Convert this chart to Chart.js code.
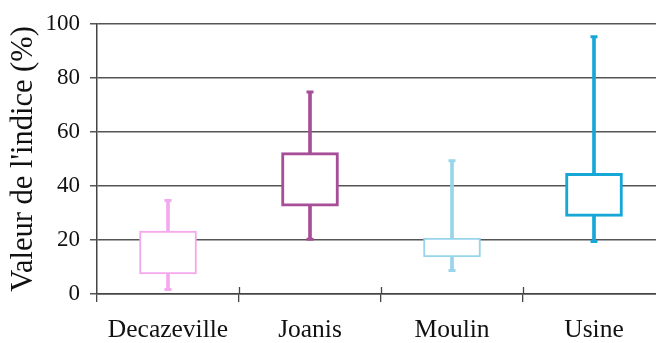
<!DOCTYPE html>
<html>
<head>
<meta charset="utf-8">
<script src="https://cdn.jsdelivr.net/npm/chart.js@4.4.1/dist/chart.umd.min.js"></script>
<style>
  html, body { margin: 0; padding: 0; background: #fff; overflow: hidden; }
  #wrap { width: 672px; height: 343px; position: relative; }
</style>
</head>
<body>
<div id="wrap"><canvas id="c" width="672" height="343"></canvas></div>
<script>
const categories = ['Decazeville', 'Joanis', 'Moulin', 'Usine'];
const minValues = [1.7, 20.3, 8.7, 19.4];
const q1Values  = [7.4, 32.5, 13.7, 28.7];
const q3Values  = [23.3, 52.3, 20.7, 44.7];
const maxValues = [34.6, 74.8, 49.3, 95.2];
const yTicks = [0, 20, 40, 60, 80, 100];
const colors = ['#f4a8ee', '#a64f98', '#98d4ea', '#16a7d7'];
const boxBorderWidths = [2, 3, 2, 3];

const FONT = "'Liberation Serif', 'Times New Roman', serif";

const boundaryTicks = {
  id: 'boundaryTicks',
  afterDraw(chart) {
    const xs = chart.scales.x;
    const ys = chart.scales.y;
    const ctx = chart.ctx;
    const y0 = ys.getPixelForValue(0);
    ctx.save();
    ctx.strokeStyle = '#444';
    ctx.lineWidth = 1.3;
    for (let i = 1; i < categories.length; i++) {
      const x = Math.round((xs.getPixelForTick(i - 1) + xs.getPixelForTick(i)) / 2) + 0.5;
      ctx.beginPath();
      ctx.moveTo(x, y0 - 7);
      ctx.lineTo(x, y0);
      ctx.stroke();
    }
    ctx.restore();
  }
};

new Chart(document.getElementById('c'), {
  data: {
    labels: categories,
    datasets: [
      {
        type: 'line',
        label: 'max',
        data: maxValues,
        showLine: false,
        pointStyle: 'line',
        pointRadius: 3.5,
        pointBorderWidth: 3,
        pointBorderColor: colors,
        pointBackgroundColor: colors,
        order: 1
      },
      {
        type: 'line',
        label: 'min',
        data: minValues,
        showLine: false,
        pointStyle: 'line',
        pointRadius: 3.5,
        pointBorderWidth: 3,
        pointBorderColor: colors,
        pointBackgroundColor: colors,
        order: 1
      },
      {
        type: 'bar',
        label: 'box',
        data: categories.map((c, i) => [q1Values[i], q3Values[i]]),
        backgroundColor: '#ffffff',
        borderColor: colors,
        borderWidth: boxBorderWidths,
        borderSkipped: false,
        barThickness: 57,
        grouped: false,
        order: 2
      },
      {
        type: 'bar',
        label: 'whisker',
        data: categories.map((c, i) => [minValues[i], maxValues[i]]),
        backgroundColor: colors,
        borderWidth: 0,
        barThickness: 3,
        grouped: false,
        order: 3
      }
    ]
  },
  options: {
    responsive: false,
    animation: false,
    events: [],
    layout: { padding: { top: 22, right: 5, bottom: 0, left: 0 } },
    plugins: { legend: { display: false }, tooltip: { enabled: false } },
    scales: {
      x: {
        type: 'category',
        offset: true,
        afterFit(scale) { scale.height = 49; },
        grid: {
          offset: true,
          drawOnChartArea: false,
          drawTicks: true,
          tickLength: 8,
          color: '#444',
          lineWidth: 1.3
        },
        border: { display: true, color: '#444', width: 1.5 },
        ticks: {
          color: '#111',
          padding: 13,
          font: { family: FONT, size: 25.5 }
        }
      },
      y: {
        min: 0,
        max: 100,
        afterFit(scale) { scale.width = 97; },
        afterBuildTicks(scale) { scale.ticks = yTicks.map(v => ({ value: v })); },
        grid: {
          color: '#555',
          lineWidth: 1.5,
          tickLength: 7,
          drawTicks: true
        },
        border: { display: true, color: '#444', width: 1.5 },
        ticks: {
          color: '#111',
          padding: 10,
          font: { family: FONT, size: 23 }
        },
        title: {
          display: true,
          text: "Valeur de l'indice (%)",
          color: '#111',
          padding: { top: 6, bottom: 0 },
          font: { family: FONT, size: 30.5 }
        }
      }
    }
  },
  plugins: [boundaryTicks]
});
</script>
</body>
</html>
